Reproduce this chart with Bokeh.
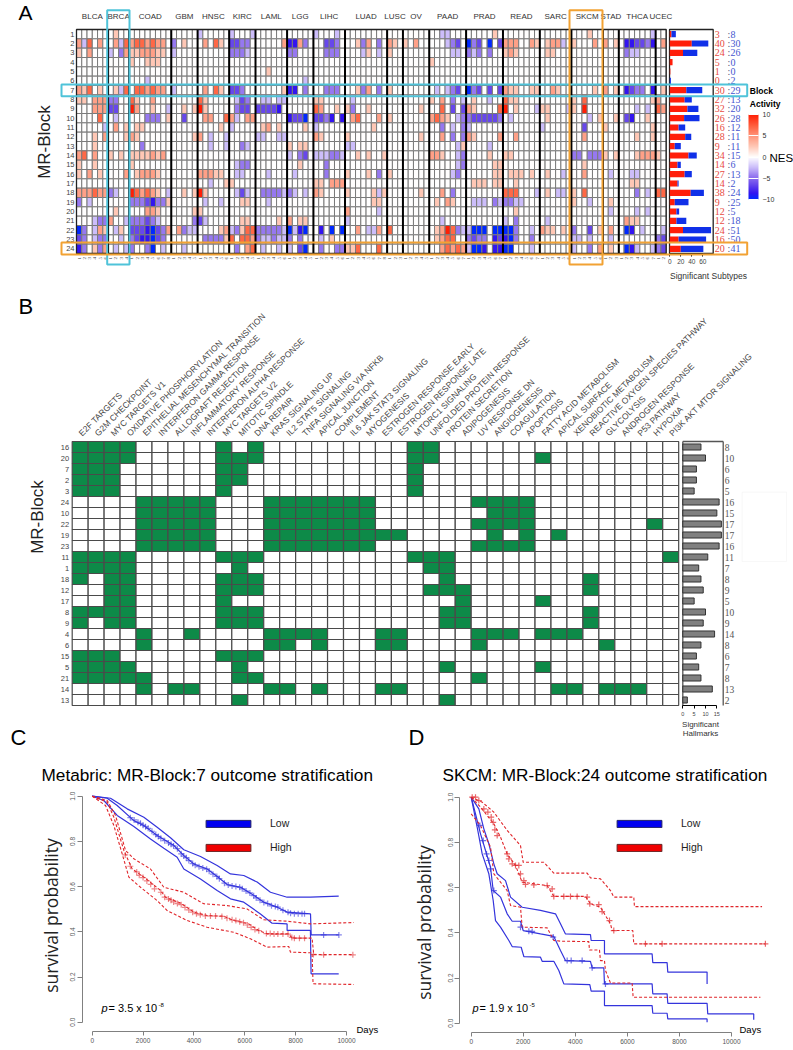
import numpy as np
from bokeh.embed import file_html
from bokeh.resources import INLINE
from bokeh.layouts import column, row
from bokeh.plotting import figure
from bokeh.models import (ColumnDataSource, Range1d, LinearAxis, FixedTicker, LabelSet, Label,
                          BoxAnnotation, LinearColorMapper, ColorBar, Legend, LegendItem,
                          PrintfTickFormatter)

FONT = "Liberation Sans"
# ---------------------------------------------------- panel A data
CANCERS = ["BLCA","BRCA","COAD","GBM","HNSC","KIRC","LAML","LGG","LIHC","LUAD","LUSC","OV","PAAD","PRAD","READ","SARC","SKCM","STAD","THCA","UCEC"]
SUBTYPES = [6,4,8,5,6,5,6,5,6,8,3,5,7,7,7,6,6,3,7,2]
NES_CODES = {"a":2.5,"b":4.5,"c":7,"d":10,"v":-2.5,"w":-4.5,"x":-6.5,"y":-8.5,"z":-10}
BLOCK_01 = "7a 23v 29v 33v 45v 49v 69v 70v 79a 97a 109v"
BLOCK_02 = "0b 1v 2c 4b 7b 8v 9c 10b 11c 12c 13b 14c 15b 16b 18w 20a 24b 26c 27a 29x 30x 31w 32w 39b 40y 41y 42b 43w 47x 48x 49w 53a 54w 55b 57w 59b 60a 62a 64b 70v 71w 72x 74z 75w 76x 78z 80x 81b 82b 83b 86b 87a 89a 90b 91b 92v 94a 98b 100b 102a 104y 105y 106x 107x 108w 109y 111b"
BLOCK_03 = "0a 2b 6v 8w 9b 10a 11a 12b 13b 14b 15a 16a 18v 29w 30w 31w 32v 40w 41w 47w 48w 49w 54v 55a 57v 59a 71v 72v 74w 75v 76w 78w 81a 82b 83a 89a 90a 104w 105v 106v"
BLOCK_04 = "10a 13a 14a 15a 67a"
BLOCK_05 = "36a"
BLOCK_06 = "13v 43v"
BLOCK_07 = "0b 1a 2c 4a 7a 8v 9c 11c 12c 13b 14c 15b 16b 18v 24b 26c 27a 29x 30x 31w 39a 40y 41y 43w 47w 48w 49w 53a 54w 55b 57w 59a 68v 70v 71w 72x 74z 75w 76x 78x 80x 81b 82a 83a 86a 87a 90b 91a 98a 100b 102a 104y 105x 106w 107w 109y 111a"
BLOCK_08 = "0a 1a 3b 4b 5b 6w 7w 10c 11a 14b 23c 24a 30v 31x 32w 35v 36v 38v 39v 45a 46a 52v 67a 69b 71w 73v 75a 78v 81c 82a 83a 94a 96c 109a 110b"
BLOCK_09 = "3b 4b 5b 6x 7x 10d 11b 14a 17v 20a 22a 23d 24a 30w 31x 32x 34x 35x 36x 37x 38y 45c 46b 49a 51a 52w 55a 65a 69c 71x 73x 74b 75a 80c 81d 83a 87v 88a 89a 93v 94a 96d 106v 108v 110c 111b"
BLOCK_10 = "4c 7v 13w 14w 15w 17a 20x 24b 25b 28c 29b 30v 32b 33b 40y 41x 42x 43z 45x 46x 47w 48y 50y 52b 53c 57b 59a 67b 68c 69b 70a 72v 73w 74w 75x 76x 77x 78x 79x 80w 82v 89a 97v 99a 102a 104x 105y 108a"
BLOCK_11 = "5v 7b 9a 11a 12a 27a 29v 35a 36b 38a 43a 45v 56a 69w 71v 73w 74v 88v 96x 100a 109a"
BLOCK_12 = "3a 5b 9a 10b 11a 22a 23b 25v 28v 34v 35v 38v 39v 45b 46a 51a 65a 69b 71w 73w 74b 75a 80b 83b 96b 106a 109a"
BLOCK_13 = "3a 12w 25v 28v 31w 32v 40a 42a 43a 51v 52v 72v 73a 78v"
BLOCK_14 = "0b 1c 3b 6a 8a 10a 11a 12a 13a 14b 15a 16b 40v 42w 43x 45v 46v 47v 48w 49w 50v 53a 55a 58a 67b 68b 69a 72v 73w 78a 81a 82a 94w 95w 97w 98w 99w 100a 102a 106a 107b 108b 109b 110a"
BLOCK_15 = "0a 3a 10a 30v 31w 32w 42a 47w 72v 73w 79a 80a 96a"
BLOCK_16 = "0a 2b 4a 9b 11a 12b 13b 14b 15a 23b 24b 25b 26a 27a 30v 31v 36v 41v 47w 51a 55a 57w 59a 71v 72w 79a 80a 82a 83a 84a 86a 89a 92v 96b 101v 105v 106v"
BLOCK_17 = "25v 28a 29a 45a 46a 48b 49b 50b 75a 76a 77a 79a 80a 83a 105a 106a"
BLOCK_18 = "0b 1b 2b 3c 4b 5b 6w 7v 10d 11c 12b 13c 14b 15a 17v 20a 22a 23d 24a 30v 31x 32v 35w 36w 37w 38w 39v 40w 41v 43v 45b 46a 51a 56a 57v 58a 65a 69b 71w 81c 82c 83c 87v 89a 91v 92v 94a 96c 106w 108v 110c 111c"
BLOCK_19 = "0w 2v 10w 11w 12w 13x 14y 15w 16w 17a 24v 27v 31a 32a 36v 56a 57a 68a 70b 71a 75v 76v 77v 79w 80v 81w 82w 83v 84v 94a 97v 101a"
BLOCK_20 = "7a 13b 14b 15a 22a 23a 51b 57v 83a 101v 106v 108v"
BLOCK_21 = "3v 4w 5w 6b 9v 10w 11w 12w 13x 14w 15v 22w 23x 24v 31a 32a 38a 40b 42a 43a 51v 69v 81v 83w 89v 104b 105a 106a"
BLOCK_22 = "0z 1w 3v 4b 5a 7v 8a 10x 11x 12x 13y 14z 15x 16w 17b 19b 20w 21v 22v 27a 28b 29v 30w 31a 32c 33c 34w 35w 36w 37w 38w 39v 40z 41v 42y 43z 46y 48z 50z 53b 55v 56v 57b 59c 68a 69b 70d 71c 72w 73v 74v 75z 76z 77z 79z 80z 81z 82z 83w 86v 88b 89a 90a 92a 94w 97x 99a 101b 104z 105y 107v 111v"
BLOCK_23 = "0x 1w 3v 4w 5w 8v 10w 11x 12y 13y 14z 15x 16w 24w 25w 26w 27w 28a 29c 31c 32c 33b 34w 35v 36v 37w 38v 39v 40w 42w 46v 48a 68a 69b 70c 71c 74w 75x 76w 77w 79y 80x 81y 82z 83w 86w 94v 95v 97v 101v 110w 111x"
BLOCK_24 = "0y 1w 3a 4w 5b 7v 9v 10w 13w 14z 16v 20v 30w 32b 33c 35v 38v 40v 42x 43z 46w 49w 50w 51a 52a 53c 57c 69b 70c 71b 72c 73b 74v 75z 76z 77y 79y 80y 81z 82z 86v 94v 97w 99b 101a 104z 105y 106v 109v 110w 111x"
BLOCK_TOKENS = [BLOCK_01,BLOCK_02,BLOCK_03,BLOCK_04,BLOCK_05,BLOCK_06,BLOCK_07,BLOCK_08,BLOCK_09,BLOCK_10,BLOCK_11,BLOCK_12,
                BLOCK_13,BLOCK_14,BLOCK_15,BLOCK_16,BLOCK_17,BLOCK_18,BLOCK_19,BLOCK_20,BLOCK_21,BLOCK_22,BLOCK_23,BLOCK_24]
SIG_UP   = [3,40,24,5,1,0,30,27,32,26,16,28,9,34,14,27,14,38,9,12,12,24,16,20]
SIG_DOWN = [8,30,26,0,0,2,29,13,20,28,12,11,11,15,6,13,2,24,25,5,18,51,50,41]
SUB_TICKS = [0,20,40,60]
NES_TICKS = [-10,-5,0,5,10]

# ---------------------------------------------------- panel B data
HALLMARKS = ["E2F TARGETS","G2M CHECKPOINT","MYC TARGETS V1","OXIDATIVE PHOSPHORYLATION","EPITHELIAL MESENCHYMAL TRANSITION",
 "INTERFERON GAMMA RESPONSE","ALLOGRAFT REJECTION","INFLAMMATORY RESPONSE","INTERFERON ALPHA RESPONSE","MYC TARGETS V2",
 "MITOTIC SPINDLE","DNA REPAIR","KRAS SIGNALING UP","IL2 STAT5 SIGNALING","TNFA SIGNALING VIA NFKB","APICAL JUNCTION","COMPLEMENT",
 "IL6 JAK STAT3 SIGNALING","MYOGENESIS","ESTROGEN RESPONSE EARLY","ESTROGEN RESPONSE LATE","MTORC1 SIGNALING",
 "UNFOLDED PROTEIN RESPONSE","PROTEIN SECRETION","ADIPOGENESIS","UV RESPONSE DN","ANGIOGENESIS","COAGULATION","APOPTOSIS",
 "FATTY ACID METABOLISM","APICAL SURFACE","XENOBIOTIC METABOLISM","REACTIVE OXYGEN SPECIES PATHWAY","GLYCOLYSIS","ANDROGEN RESPONSE",
 "P53 PATHWAY","HYPOXIA","PI3K AKT MTOR SIGNALING"]
B_BLOCKS = [16,20,7,2,3,24,10,22,19,23,11,1,18,12,17,8,9,4,6,15,5,21,14,13]
B_SIG = [[0,1,2,3,9,11,21,22],[0,1,2,3,9,10,11,21,22,29],[0,1,2,9,10,21],[0,1,2,9,10,21],[0,1,2,9,21],
 [4,5,6,7,8,12,13,14,15,16,17,18,25,26,27,28],[4,5,6,7,8,12,13,14,15,16,17,18,26,27,28],
 [4,5,6,7,8,12,13,14,15,16,17,18,25,26,27,28,36],[4,5,6,7,8,12,13,14,15,16,17,18,19,20,26,28,30],
 [4,5,6,7,8,12,13,14,15,16,17,18,25,26,27,28],[0,1,2,3,9,10,11,21,22,23,37],[0,1,2,3,10,22,23],[0,2,3,9,10,11,23,32],
 [2,3,9,10,11,22,23,24,32],[2,3,9,24,29],[0,1,2,3,9,10,11,23,24,32],[0,2,3,9,10,11,23,24,32],
 [4,7,12,13,14,15,19,20,25,26,27,29,30,31],[4,12,13,15,19,20,25,33],[0,1,2,9,10,11],[0,1,2,3,10,23,29],
 [0,1,2,3,4,10,11,25],[4,6,7,12,13,15,19,20,30,31,33,34,35],[10,23]]
B_COUNTS = [8,10,6,6,5,16,15,17,17,16,11,7,8,9,5,10,9,14,8,6,7,8,13,2]
HALL_TICKS = [0,5,10,15]

# ---------------------------------------------------- panel C data
C_LOW_DAY  = [0,590,983,1638,2031,2556,3211,3604,3997,4522,4915,5308,5832,6225,6750,7274,7667,8585,8611,9698]
C_LOW_P    = [1,.991,.959,.892,.870,.826,.782,.737,.70,.678,.645,.609,.597,.571,.531,.509,.487,.479,.386,.386]
C_LOWU_DAY = [0,721,1376,2031,2555,3079,3603,4258,4913,5437,5961,6485,7009,7664,8581,9694]
C_LOWU_P   = [1,.991,.944,.907,.863,.816,.763,.733,.693,.656,.649,.620,.575,.553,.553,.558]
C_LOWL_DAY = [0,459,983,1638,2293,2817,3341,3603,4258,4913,5437,5961,6616,7074,7664,7664,8581,8607,9694]
C_LOWL_P   = [1,.981,.915,.866,.811,.770,.730,.678,.634,.583,.546,.531,.479,.438,.435,.406,.406,.214,.214]
C_HI_DAY   = [0,590,852,1245,1572,2031,2686,2882,3472,3996,4520,5175,5568,6157,6550,6878,7729,7860,8384,8646,8712,10284]
C_HI_P     = [1,.974,.907,.760,.678,.642,.583,.553,.527,.487,.472,.469,.450,.435,.406,.391,.391,.372,.372,.372,.299,.299]
C_HIU_DAY  = [0,590,917,1310,1638,2293,2817,3603,4389,5306,6092,6747,7664,8581,10284]
C_HIU_P    = [1,.981,.915,.760,.723,.678,.597,.575,.524,.516,.501,.453,.447,.435,.441]
C_HIL_DAY  = [0,524,852,1179,1441,1900,2555,2948,3734,4520,5568,6223,6878,7729,7795,8646,8685,10284]
C_HIL_P    = [1,.959,.870,.745,.642,.597,.538,.494,.450,.420,.398,.369,.332,.335,.310,.307,.170,.167]
C_LOW_CENS_DAY = [1500,1650,1800,1900,2000,2100,2200,2350,2500,2600,2700,2850,3000,3100,3200,3350,3500,3600,3700,3800,3950,4050,4200,4350,4500,4600,4750,4900,5000,5200,5350,5500,5650,5800,5900,6050,6200,6350,6450,6600,6750,6900,7050,7200,7300,7500,7700,7800,7950,8100,8250,8350,9100,9700]
C_LOW_CENS_P   = [.905,.895,.885,.88,.872,.865,.858,.845,.83,.822,.813,.803,.793,.787,.78,.768,.745,.735,.728,.715,.702,.695,.688,.682,.677,.668,.655,.645,.635,.615,.607,.603,.60,.597,.59,.58,.572,.56,.55,.54,.53,.525,.515,.512,.509,.495,.487,.482,.48,.48,.48,.48,.386,.386]
C_HI_CENS_DAY  = [1300,1500,1750,1850,2000,2150,2300,2450,2700,2850,3000,3100,3200,3350,3500,3650,3800,3950,4100,4250,4450,4650,4850,5100,5300,5500,5650,5800,5950,6100,6250,6400,6550,6850,7000,7150,7300,7500,7700,7850,7950,8150,8350,8700,9100,10250]
C_HI_CENS_P    = [.74,.69,.665,.65,.64,.625,.61,.59,.575,.553,.545,.54,.532,.525,.52,.508,.497,.487,.48,.475,.47,.47,.47,.468,.46,.453,.45,.445,.44,.43,.42,.41,.405,.392,.392,.39,.39,.39,.39,.375,.372,.372,.372,.30,.298,.298]

# ---------------------------------------------------- panel D data
D_LOWU_DAY = [0,294,486,678,870,998,1318,1510,1958,2662,3238,3430,3622,4582,4608,5120,5120,6950,6976,7526,7552,9062,9062]
D_LOWU_P   = [1,.948,.860,.794,.705,.661,.631,.558,.513,.499,.484,.440,.395,.392,.366,.366,.307,.307,.268,.268,.226,.226,.174]
D_LOW_DAY  = [0,166,358,550,742,845,1126,1382,1574,1894,1997,2662,3174,3430,3622,4582,4646,5094,5120,6950,6976,7526,7552,9062,9088,10854,10854]
D_LOW_P    = [1,.926,.838,.764,.690,.587,.558,.484,.451,.451,.410,.395,.384,.322,.277,.274,.245,.245,.174,.174,.130,.130,.088,.088,.041,.041,.015]
D_LOWL_DAY = [0,230,422,678,845,934,1126,1446,1574,1920,2022,2662,2726,3174,3366,3558,4557,4608,5120,5120,6950,6976,7526,7552,9062,9062]
D_LOWL_P   = [1,.867,.749,.661,.543,.454,.425,.366,.339,.336,.295,.292,.274,.274,.233,.174,.171,.142,.142,.078,.078,.044,.044,.019,.019,.004]
D_HIU_DAY  = [0,422,870,1382,1894,1997,2790,3174,4454,4582,4966,5350,5478,6246,6272,11174]
D_HIU_P    = [1,.978,.934,.853,.786,.712,.712,.664,.664,.643,.639,.587,.558,.558,.516,.516]
D_HI_DAY   = [0,358,870,1126,1382,1702,1958,2918,3174,4390,4582,4966,5350,5414,6208,6246,11302]
D_HI_P     = [1,.956,.882,.823,.749,.698,.624,.609,.561,.561,.528,.513,.440,.410,.410,.351,.351]
D_HIL_DAY  = [0,358,742,870,1382,1510,1894,1958,2918,3174,3430,4518,4544,4928,4966,5120,5158,5350,6182,6221,11110]
D_HIL_P    = [.926,.875,.779,.661,.587,.521,.513,.425,.422,.366,.363,.361,.324,.324,.277,.277,.233,.178,.178,.115,.115]
D_HI_CENS_DAY = [38,166,294,486,640,768,845,909,998,1382,1446,1574,1702,1830,1894,2022,2086,2406,2918,3110,3174,3558,3814,4070,4454,4557,4902,5030,5312,5478,6694,7334,11302]
D_HI_CENS_P   = [1,1,.985,.948,.934,.912,.889,.855,.830,.749,.727,.705,.698,.698,.661,.631,.614,.612,.609,.594,.561,.561,.561,.561,.558,.528,.525,.494,.454,.410,.351,.351,.351]
D_LOW_CENS_DAY = [333,461,589,678,742,870,1894,2214,2342,3149,3686,3840,4262,4646,5158]
D_LOW_CENS_P   = [.875,.808,.749,.720,.683,.587,.425,.407,.406,.381,.277,.277,.277,.245,.174]
SURV_Y_TICKS = [0,.2,.4,.6,.8,1]
SURV_X_TICKS = [0,2000,4000,6000,8000,10000]

BLUE, RED = "#3434DC", "#E0252A"
DARK = "#444444"

def base_fig(w, h, top, xr, yr):
    f = figure(width=w, height=h, min_border_left=0, min_border_right=0, min_border_top=top,
               min_border_bottom=0, x_range=xr, y_range=yr, x_axis_location=None, y_axis_location=None,
               toolbar_location=None, output_backend="svg", tools="")
    f.outline_line_color = None
    f.grid.visible = False
    return f

def quiet(ax):
    ax.axis_line_color = None
    ax.major_tick_line_color = None
    ax.minor_tick_line_color = None
    ax.major_tick_in = 0
    ax.major_tick_out = 0

def txt(x, y, text, size, color="black", style="normal", align="left", base="middle", angle=0, font=FONT):
    return Label(x=x, y=y, text=text, text_font=font, text_font_size=f"{size}px", text_color=color,
                 text_font_style=style, text_align=align, text_baseline=base, angle=angle)

# ===================================================== PANEL A
A_CW, A_RH = 5.265, 224/24
ax_ = lambda px: (px-76)/A_CW
ay_ = lambda py: .5+(py-29)/A_RH
bar_scale = .55
bar_zero = 669.3
a = base_fig(793, 283, 0, Range1d(ax_(0), ax_(793)), Range1d(ay_(283), ay_(0)))
a.extra_x_ranges = {"bars": Range1d((0-bar_zero)/bar_scale, (793-bar_zero)/bar_scale)}

key = [(-10,(0,40,255)),(-8.5,(50,20,240)),(-6.5,(104,72,236)),(-4.5,(150,120,240)),(-2.5,(203,188,250)),(0,(255,255,255)),
       (2.5,(255,200,182)),(4.5,(255,160,135)),(7,(255,104,70)),(10,(255,30,5))]
lv = np.linspace(-10,10,256)
kx = [k[0] for k in key]
palette = ["#%02x%02x%02x" % tuple(int(round(np.interp(v,kx,[k[1][i] for k in key]))) for i in range(3)) for v in lv]
mapper = LinearColorMapper(palette=palette, low=-10, high=10)

heat = np.zeros((24, sum(SUBTYPES)))
for r, toks in enumerate(BLOCK_TOKENS):
    for t in toks.split():
        heat[r, int(t[:-1])] = NES_CODES[t[-1]]
xs, ys, vs = [], [], []
for r in range(24):
    for c in range(heat.shape[1]):
        xs.append(c+.5); ys.append(r+1); vs.append(float(heat[r,c]))
a.rect(x="x", y="y", width=1, height=1, source=ColumnDataSource(dict(x=xs,y=ys,v=vs)),
       fill_color={"field":"v","transform":mapper}, line_color="#7a7a7a", line_width=1)
edges = np.concatenate([[0],np.cumsum(SUBTYPES)])
a.segment(x0=edges[1:-1].tolist(), x1=edges[1:-1].tolist(), y0=.5, y1=24.5, line_color="black", line_width=2)
a.quad(left=[0], right=[sum(SUBTYPES)], top=[.5], bottom=[24.5], fill_color=None, line_color="#222222", line_width=1.3)

ya = LinearAxis(fixed_location=0, ticker=FixedTicker(ticks=list(range(1,25))), axis_label="MR-Block", axis_label_text_font=FONT,
                axis_label_text_font_size="17px", axis_label_text_font_style="normal", axis_label_text_color="#222222", axis_label_standoff=9,
                major_label_text_font=FONT, major_label_text_font_size="7.5px", major_label_text_color=DARK, major_label_standoff=2)
quiet(ya); a.add_layout(ya, "left")
centers = (edges[:-1]+edges[1:])/2
top = LinearAxis(fixed_location=.5, ticker=FixedTicker(ticks=centers.tolist()), major_label_overrides={float(c):n for c,n in zip(centers,CANCERS)},
                 major_label_text_font=FONT, major_label_text_font_size="8px", major_label_text_color="#333333", major_label_standoff=9)
quiet(top); a.add_layout(top, "above")
bax = LinearAxis(fixed_location=24.5, x_range_name="bars", ticker=FixedTicker(ticks=SUB_TICKS), bounds=(0,60), major_label_text_font=FONT,
                 major_label_text_font_size="6.5px", major_label_text_color=DARK, major_label_standoff=2, major_tick_out=3, major_tick_in=0,
                 minor_tick_line_color=None)
a.add_layout(bax, "below")
sub_x, sub_t = [], []
for e, n in zip(edges[:-1], SUBTYPES):
    for i in range(n):
        sub_x.append(float(e+i+.5)); sub_t.append(str(i+1))
a.add_layout(LabelSet(x="x", y=25.0, text="t", source=ColumnDataSource(dict(x=sub_x,t=sub_t)), angle=np.pi/2, text_font=FONT,
                      text_font_size="5px", text_color="#333333", text_align="center", text_baseline="middle"))
rows = list(range(1,25))
cum = [u+d for u,d in zip(SIG_UP,SIG_DOWN)]
a.quad(left=[-.5], right=[78.9], top=[.5], bottom=[24.5], fill_color="white", line_color="#222222", line_width=1.3, x_range_name="bars")
a.hbar(y=rows, left=0, right=SIG_UP, height=.66, fill_color="#FF1E0A", line_color=None, x_range_name="bars")
a.hbar(y=rows, left=SIG_UP, right=cum, height=.66, fill_color="#1030E8", line_color=None, x_range_name="bars")
src = ColumnDataSource(dict(y=rows, u=[str(v) for v in SIG_UP], d=[str(v) for v in SIG_DOWN], c=[":"]*24))
for col, xpx, color in [("u",714.3,"#E84A42"),("c",727,"#555577"),("d",730,"#4455D0")]:
    a.add_layout(LabelSet(x=(xpx-bar_zero)/bar_scale, y="y", text=col, source=src, x_range_name="bars", text_font=FONT, text_font_size="10px",
                          text_color=color, text_align="left", text_baseline="middle"))
# highlight boxes
CYAN, ORANGE = "#4FC3D9", "#F2A233"
for l, rr, t, b_, col in [(61,746.7,84,95.7,CYAN),(106.7,129,9.7,264,CYAN),(569,602,9.7,264,ORANGE),(61,746.7,242,254,ORANGE)]:
    a.add_layout(BoxAnnotation(left=ax_(l), right=ax_(rr), top=ay_(t), bottom=ay_(b_), fill_alpha=0, fill_color=None,
                               line_color=col, line_width=2, line_alpha=1))
a.add_layout(txt(ax_(708), ay_(275.5), "Significant Subtypes", 8.5, "#333333", align="center"))
a.add_layout(txt(ax_(749.3), ay_(90), "Block", 8.5, style="bold"))
a.add_layout(txt(ax_(749.3), ay_(103), "Activity", 8.5, style="bold"))
a.add_layout(txt(ax_(769), ay_(157), "NES", 11.5))
a.add_layout(txt(ax_(18), ay_(12), "A", 21))
cb = ColorBar(color_mapper=mapper, ticker=FixedTicker(ticks=NES_TICKS), location=(748,84), width=10, height=85, padding=0,
              background_fill_alpha=0, border_line_color=None, bar_line_color=None, major_label_text_font=FONT,
              major_label_text_font_size="7px", major_label_text_color="#333333", label_standoff=4,
              major_tick_line_color="white", major_tick_in=10, minor_tick_line_color=None)
a.add_layout(cb)

# ===================================================== PANEL B
B_CW, B_RH = 15.96, 11
bx_ = lambda px: (px-71.7)/B_CW
by_ = lambda py: .5+(py-441)/B_RH
h_scale, h_zero = 2.27, 682.3
b = base_fig(793, 467, 0, Range1d(bx_(0), bx_(793)), Range1d(by_(750), by_(283)))
b.extra_x_ranges = {"bars": Range1d((0-h_zero)/h_scale, (793-h_zero)/h_scale)}
xs, ys, cs = [], [], []
for r, sig in enumerate(B_SIG):
    for c in range(len(HALLMARKS)):
        xs.append(c+.5); ys.append(r+1); cs.append("#0D8A48" if c in sig else "white")
b.rect(x="x", y="y", width=1, height=1, source=ColumnDataSource(dict(x=xs,y=ys,c=cs)), fill_color="c", line_color="#4a4a4a", line_width=1.2)
yb = LinearAxis(fixed_location=0, ticker=FixedTicker(ticks=list(range(1,25))), major_label_overrides={i+1:str(v) for i,v in enumerate(B_BLOCKS)},
                axis_label="MR-Block", axis_label_text_font=FONT, axis_label_text_font_size="17px", axis_label_text_font_style="normal", axis_label_text_color="#222222",
                axis_label_standoff=11, major_label_text_font=FONT, major_label_text_font_size="7.5px", major_label_text_color=DARK, major_label_standoff=3)
quiet(yb); b.add_layout(yb, "left")
tb = LinearAxis(fixed_location=.5, ticker=FixedTicker(ticks=[i+.5 for i in range(len(HALLMARKS))]),
                major_label_overrides={i+.5:n for i,n in enumerate(HALLMARKS)}, major_label_orientation=np.pi/4,
                major_label_text_font=FONT, major_label_text_font_size="8.5px", major_label_text_color=DARK, major_label_standoff=7)
quiet(tb); b.add_layout(tb, "above")
hax = LinearAxis(fixed_location=24.5, x_range_name="bars", ticker=FixedTicker(ticks=HALL_TICKS), bounds=(0,15), major_label_text_font=FONT,
                 major_label_text_font_size="5.5px", major_label_text_color=DARK, major_label_standoff=3, major_tick_out=3, major_tick_in=0,
                 minor_tick_line_color=None)
b.add_layout(hax, "below")
b.segment(x0=[0,17.8], x1=[0,17.8], y0=.5, y1=24.5, line_color="#555555", line_width=1.3, x_range_name="bars")
b.segment(x0=[0], x1=[17.8], y0=.5, y1=.5, line_color="#555555", line_width=1.3, x_range_name="bars")
b.hbar(y=rows, left=0, right=B_COUNTS, height=.55, fill_color="#808080", line_color="#333333", line_width=1, x_range_name="bars")
b.add_layout(LabelSet(x=(724.3-h_zero)/h_scale, y="y", text="t", source=ColumnDataSource(dict(y=rows,t=[str(v) for v in B_COUNTS])), x_range_name="bars",
                      text_font=FONT, text_font_size="9.5px", text_color="#555555", text_align="left", text_baseline="middle"))
b.add_layout(txt(bx_(700), by_(724), "Significant", 8, "#333333", align="center"))
b.add_layout(txt(bx_(700), by_(733), "Hallmarks", 8, "#333333", align="center"))
b.add_layout(txt(bx_(18), by_(306), "B", 22))
b.add_layout(txt(bx_(10), by_(737), "C", 22))
b.add_layout(txt(bx_(408), by_(737), "D", 22))
b.add_layout(BoxAnnotation(left=bx_(741.7), right=bx_(786), top=by_(491.7), bottom=by_(561), fill_alpha=0, fill_color=None,
                           line_color="#e8e8e8", line_width=1))

# ===================================================== PANELS C & D
def km(w, org, axis_x, axis_y, zero_px, px_day, p0_py, title, title_off, lab_xy):
    cx = lambda px: (px-zero_px)/px_day
    cy = lambda py: (p0_py-py)/226
    f = base_fig(w, 298, 35, Range1d(cx(org), cx(org+w)), Range1d(cy(1048), cy(785)))
    f.title.text = title
    f.title.text_font = FONT; f.title.text_font_size = "17.2px"; f.title.text_font_style = "normal"; f.title.text_color = "black"
    f.title.align = "left"; f.title.offset = title_off; f.title.standoff = 1
    xa = LinearAxis(fixed_location=cy(axis_y), ticker=FixedTicker(ticks=SURV_X_TICKS), bounds=(0,10000), major_label_text_font=FONT, major_label_text_font_size="6.5px",
                    major_label_text_color="#555555", axis_line_color="#808080", major_tick_line_color="#808080", major_tick_in=0, major_tick_out=4,
                    major_label_standoff=2, minor_tick_line_color=None)
    f.add_layout(xa, "below")
    ya = LinearAxis(fixed_location=cx(axis_x), ticker=FixedTicker(ticks=SURV_Y_TICKS), bounds=(0,1), formatter=PrintfTickFormatter(format="%.1f"), major_label_orientation="vertical",
                    major_label_text_font=FONT, major_label_text_font_size="6.5px", major_label_text_color="#555555", axis_line_color="#808080",
                    major_tick_line_color="#808080", major_tick_in=0, major_tick_out=5, major_label_standoff=2, minor_tick_line_color=None)
    f.add_layout(ya, "left")
    f.add_layout(txt(cx(lab_xy[0]), cy(lab_xy[1]), "survival probability", 17.5, "#222222", align="center", angle=np.pi/2, font="Open Sans"))
    return f, cx, cy

c, cx, cy = km(400, 0, 81.7, 1031, 91.7, .02543, 1021.7, "Metabric: MR-Block:7 outcome stratification", 41, (50,915))
for dx, dy in [(C_LOW_DAY,C_LOW_P),(C_LOWU_DAY,C_LOWU_P),(C_LOWL_DAY,C_LOWL_P)]:
    c.line(dx, dy, line_color=BLUE, line_width=1.2)
for dx, dy in [(C_HI_DAY,C_HI_P),(C_HIU_DAY,C_HIU_P),(C_HIL_DAY,C_HIL_P)]:
    c.line(dx, dy, line_color=RED, line_width=1.1, line_dash="3 2")
c.scatter(C_LOW_CENS_DAY, C_LOW_CENS_P, marker="cross", size=6, line_color=BLUE, line_alpha=.6, line_width=1.2)
c.scatter(C_HI_CENS_DAY, C_HI_CENS_P, marker="cross", size=6, line_color=RED, line_alpha=.55, line_width=1.2)

d, dx_, dy_ = km(393, 400, 459.3, 1032, 470.7, .02603, 1022.7, "SKCM: MR-Block:24 outcome stratification", 42, (423,922))
for dx, dy in [(D_LOW_DAY,D_LOW_P),(D_LOWU_DAY,D_LOWU_P),(D_LOWL_DAY,D_LOWL_P)]:
    d.line(dx, dy, line_color=BLUE, line_width=1.2)
for dx, dy in [(D_HI_DAY,D_HI_P),(D_HIU_DAY,D_HIU_P),(D_HIL_DAY,D_HIL_P)]:
    d.line(dx, dy, line_color=RED, line_width=1.1, line_dash="3 2")
d.scatter(D_LOW_CENS_DAY, D_LOW_CENS_P, marker="cross", size=6, line_color=BLUE, line_alpha=.7, line_width=1.2)
d.scatter(D_HI_CENS_DAY, D_HI_CENS_P, marker="cross", size=6, line_color=RED, line_alpha=.7, line_width=1.2)

def decorate(f, fx, fy, loc, days_px, p_px, p_txt, sup, sup_px):
    low = f.quad(left=[-1e6], right=[-9e5], top=[-5], bottom=[-6], fill_color="#0000F0", line_color="#222266")
    high = f.quad(left=[-1e6], right=[-9e5], top=[-5], bottom=[-6], fill_color="#F00000", line_color="#662222")
    f.add_layout(Legend(items=[LegendItem(label="Low", renderers=[low]), LegendItem(label="High", renderers=[high])], location=loc,
                        padding=0, margin=0, spacing=12, glyph_width=56, glyph_height=9, label_standoff=14, label_height=9,
                        border_line_color=None, background_fill_alpha=0, label_text_font=FONT, label_text_font_size="10.5px",
                        label_text_color="#222222"))
    f.add_layout(txt(fx(days_px), fy(1029), "Days", 9.5))
    f.add_layout(txt(fx(p_px), fy(1007), "p", 11, style="italic"))
    f.add_layout(txt(fx(p_px+7), fy(1007), p_txt, 11))
    f.add_layout(txt(fx(sup_px), fy(1004), sup, 6))

decorate(c, cx, cy, (200,195), 356, 101, "= 3.5 x 10", "-8", 158)
decorate(d, dx_, dy_, (211,195), 739, 472, "= 1.9 x 10", "-5", 529)

page = column(a, b, row(c, d, spacing=0), spacing=0)
open("out.html", "w").write(file_html(page, INLINE))
